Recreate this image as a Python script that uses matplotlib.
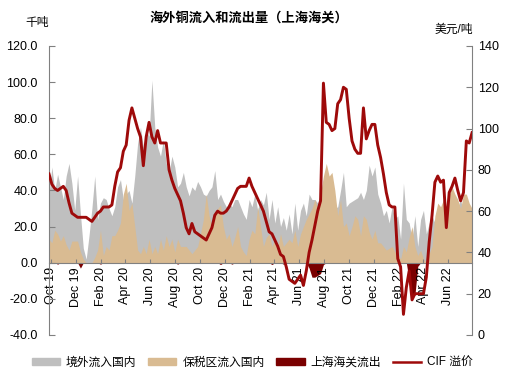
import pandas as pd
import matplotlib
matplotlib.use("Agg")
import matplotlib.pyplot as plt
import matplotlib.dates as mdates
from matplotlib.patches import Patch
from matplotlib.lines import Line2D
from matplotlib.ticker import FormatStrFormatter, MultipleLocator

plt.rcParams['font.family'] = ['Liberation Sans', 'Noto Sans CJK SC']
plt.rcParams['axes.unicode_minus'] = False

# weekly data, Sep 2019 - Jul 2022
dates = pd.date_range('2019-09-27', periods=149, freq='7D')

# 境外流入国内 (千吨)
overseas = [38, 53, 40, 49, 42, 35, 48, 55, 44, 29, 48, 27, 8, 2, 15, 30, 48, 24, 33, 36,
            35, 30, 26, 31, 42, 46, 35, 38, 40, 33, 48, 66, 75, 64, 73, 70, 101, 75, 64, 59,
            68, 55, 50, 59, 53, 42, 44, 50, 42, 37, 42, 40, 45, 42, 38, 37, 40, 42, 51, 35,
            38, 34, 31, 33, 31, 35, 35, 31, 27, 24, 35, 31, 38, 29, 35, 32, 39, 24, 35, 22,
            31, 20, 25, 18, 27, 16, 33, 18, 29, 33, 26, 38, 35, 35, 33, 38, 46, 45, 42, 45,
            30, 31, 40, 50, 31, 33, 34, 35, 36, 39, 35, 40, 54, 48, 53, 38, 33, 26, 29, 22,
            31, 24, 26, 13, 44, 24, 22, 13, 26, 9, 24, 29, 16, 22, 26, 22, 30, 26, 30, 20,
            30, 35, 32, 30, 36, 25, 36, 30, 28]

# 保税区流入国内 (千吨)
bonded = [13, 11, 18, 16, 12, 15, 10, 7, 12, 12, 12, 6, 2, 0, 0, 0, 3, 7, 18, 4,
          9, 7, 15, 15, 18, 22, 38, 44, 29, 33, 20, 7, 5, 9, 5, 13, 5, 9, 5, 13,
          7, 15, 9, 13, 6, 13, 9, 9, 9, 7, 5, 7, 9, 16, 24, 38, 26, 20, 26, 30,
          32, 20, 13, 16, 9, 14, 20, 9, 6, 4, 13, 18, 16, 31, 20, 9, 14, 16, 9, 13,
          9, 16, 9, 11, 13, 11, 18, 9, 16, 20, 24, 27, 30, 35, 30, 38, 48, 55, 48, 50,
          40, 26, 35, 20, 22, 15, 20, 26, 24, 15, 26, 24, 17, 13, 18, 11, 11, 9, 7, 8,
          9, 6, 5, 2, 9, 6, 14, 20, 9, 4, 7, 2, 0, 5, 9, 26, 33, 31, 35, 26,
          38, 42, 38, 35, 30, 38, 38, 33, 30]

# 上海海关流出 (千吨)
outflow = [0] * 149
for i, v in [(3, -0.8), (11, -3), (18, -0.8), (45, -0.8), (60, -1), (64, -0.8),
             (78, -1), (82, -0.8), (91, -3), (92, -8), (93, -8), (94, -7), (95, -6),
             (96, -1), (126, -10), (127, -20), (128, -18), (129, -2)]:
    outflow[i] = v

# CIF 溢价 (美元/吨)
cif = [78, 73, 71, 70, 71, 72, 70, 64, 59, 58, 57, 57, 57, 57, 56, 55, 57, 59, 60, 62,
       62, 62, 63, 72, 79, 81, 89, 92, 104, 110, 105, 100, 96, 82, 96, 103, 96, 93, 99, 93,
       93, 93, 80, 75, 71, 68, 65, 59, 52, 49, 54, 50, 49, 48, 47, 46, 49, 52, 58, 60,
       59, 59, 60, 62, 65, 68, 71, 72, 72, 72, 76, 72, 69, 66, 63, 60, 55, 50, 49, 46,
       43, 39, 38, 33, 27, 26, 25, 27, 29, 24, 31, 40, 46, 53, 60, 65, 122, 103, 102, 99,
       100, 112, 114, 120, 119, 105, 94, 90, 88, 88, 110, 95, 99, 102, 102, 92, 86, 78, 69, 63,
       62, 62, 37, 33, 10, 23, 31, 17, 20, 20, 20, 20, 28, 45, 58, 74, 77, 74, 75, 52,
       69, 72, 76, 70, 65, 69, 94, 93, 98]

c_gray = '#BFBFBF'
c_tan = '#D9BB92'
c_out = '#7A0000'
c_cif = '#9E0A0A'
c_axis = '#808080'

fig = plt.figure(figsize=(5.31, 3.78), dpi=100)
ax = fig.add_axes([0.0923, 0.1138, 0.7967, 0.7646])

ax.fill_between(dates, overseas, 0, color=c_gray, linewidth=0)
ax.fill_between(dates, bonded, 0, color=c_tan, linewidth=0)
ax.fill_between(dates, outflow, 0, color=c_out, linewidth=0)

ax.set_xlim(dates[0], dates[-1])
ax.set_ylim(-40, 120)
ax.yaxis.set_major_locator(MultipleLocator(20))
ax.yaxis.set_major_formatter(FormatStrFormatter('%.1f'))
ax.xaxis.set_major_locator(mdates.MonthLocator(bymonth=[2, 4, 6, 8, 10, 12]))
ax.xaxis.set_major_formatter(mdates.DateFormatter('%b %y'))

ax.spines['top'].set_visible(False)
ax.spines['right'].set_visible(False)
ax.spines['bottom'].set_position(('data', 0))
for s in ['left', 'bottom']:
    ax.spines[s].set_color(c_axis)
    ax.spines[s].set_linewidth(0.8)
ax.tick_params(axis='y', direction='in', length=4, color=c_axis, labelsize=9, pad=8)
ax.tick_params(axis='x', direction='in', length=3, color=c_axis, labelsize=9,
               pad=3, labelrotation=90)

ax2 = ax.twinx()
ax2.plot(dates, cif, color=c_cif, linewidth=2.1)
ax2.set_ylim(0, 140)
ax2.yaxis.set_major_locator(MultipleLocator(20))
ax2.set_xlim(dates[0], dates[-1])
for s in ['top', 'left', 'bottom']:
    ax2.spines[s].set_visible(False)
ax2.spines['right'].set_color(c_axis)
ax2.spines['right'].set_linewidth(0.8)
ax2.tick_params(axis='y', direction='in', length=4, color=c_axis, labelsize=9, pad=4)

fig.text(0.468, 0.952, '海外铜流入和流出量（上海海关）', ha='center', va='center',
         fontsize=9.5, fontweight='bold')
fig.text(0.07, 0.94, '千吨', ha='center', va='center', fontsize=8.5)
fig.text(0.855, 0.922, '美元/吨', ha='center', va='center', fontsize=8.5)

handles = [Patch(color=c_gray), Patch(color=c_tan), Patch(color=c_out),
           Line2D([], [], color=c_cif, linewidth=1.8)]
labels = ['境外流入国内', '保税区流入国内', '上海海关流出', 'CIF 溢价']
fig.legend(handles, labels, loc='center', bbox_to_anchor=(0.475, 0.04), ncol=4,
           frameon=False, fontsize=8.5, handlelength=2.4, handleheight=0.6,
           columnspacing=1.0, handletextpad=0.5)

fig.savefig('out.png', dpi=100)
